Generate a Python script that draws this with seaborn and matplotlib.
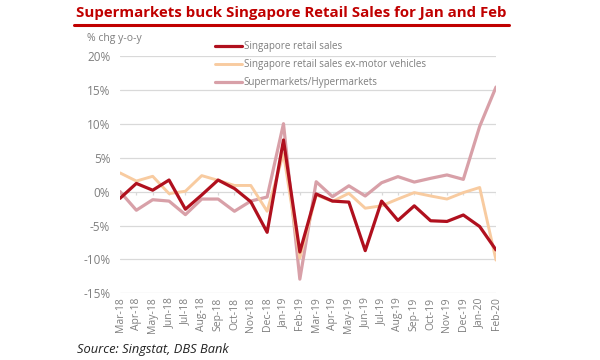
import matplotlib
matplotlib.use("Agg")
import matplotlib.pyplot as plt
from matplotlib.lines import Line2D
import seaborn as sns
import pandas as pd
import numpy as np

months = ["Mar-18", "Apr-18", "May-18", "Jun-18", "Jul-18", "Aug-18", "Sep-18", "Oct-18",
          "Nov-18", "Dec-18", "Jan-19", "Feb-19", "Mar-19", "Apr-19", "May-19", "Jun-19",
          "Jul-19", "Aug-19", "Sep-19", "Oct-19", "Nov-19", "Dec-19", "Jan-20", "Feb-20"]

retail = [-1.0, 1.2, 0.2, 1.7, -2.6, -0.5, 1.7, 0.45, -1.5, -6.0, 7.6, -8.9,
          -0.35, -1.4, -1.55, -8.7, -1.4, -4.25, -2.1, -4.3, -4.4, -3.45, -5.15, -8.6]
retail_ex_motor = [2.75, 1.55, 2.25, -0.3, 0.05, 2.35, 1.65, 0.9, 0.9, -2.9, 5.6, -9.8,
                   -0.5, -1.45, -0.25, -2.45, -2.1, -1.1, -0.15, -0.65, -1.1, -0.15, 0.6, -10.1]
supermarkets = [0.0, -2.75, -1.2, -1.4, -3.4, -1.1, -1.1, -2.9, -1.4, -0.8, 10.0, -12.9,
                1.45, -0.75, 0.85, -0.65, 1.3, 2.2, 1.4, 1.95, 2.45, 1.8, 9.6, 15.4]

series_names = ["Singapore retail sales", "Singapore retail sales ex-motor vehicles",
                "Supermarkets/Hypermarkets"]
colors = {"Singapore retail sales": "#B0101E",
          "Singapore retail sales ex-motor vehicles": "#F8CBA0",
          "Supermarkets/Hypermarkets": "#D8A0A8"}

yticks = [-15, -10, -5, 0, 5, 10, 15, 20]
ytick_labels = ["-15%", "-10%", "-5%", "0%", "5%", "10%", "15%", "20%"]

idx = np.arange(len(months))
df = pd.DataFrame({
    "idx": np.tile(idx, 3),
    "value": retail + retail_ex_motor + supermarkets,
    "series": np.repeat(series_names, len(months)),
})

sns.set_theme(style="white")
plt.rcParams["font.family"] = ["Open Sans", "DejaVu Sans"]

fig = plt.figure(figsize=(6, 3.6), dpi=100)
ax = fig.add_axes([0.2, 0.185, 0.6267, 0.66])

for y in yticks:
    ax.axhline(y, color="#D9D9D9", lw=0.9, zorder=0)
ax.vlines(idx, -0.55, 0, color="#D9D9D9", lw=0.9, zorder=0)

draw_order = ["Supermarkets/Hypermarkets", "Singapore retail sales ex-motor vehicles",
              "Singapore retail sales"]
widths = {"Singapore retail sales": 2.3,
          "Singapore retail sales ex-motor vehicles": 2.1,
          "Supermarkets/Hypermarkets": 2.3}
for i, name in enumerate(draw_order):
    sub = df[df["series"] == name]
    sns.lineplot(data=sub, x="idx", y="value", color=colors[name], lw=widths[name],
                 ax=ax, zorder=2 + i, legend=False)

ax.set_xlim(0, len(months) - 1)
ax.set_ylim(-15, 20)
ax.set_yticks(yticks)
ax.set_yticklabels(ytick_labels)
ax.set_xticks(idx)
ax.set_xticklabels(months, rotation=90)
ax.tick_params(axis="y", length=0, pad=7, labelsize=8.5, labelcolor="#7F7F7F")
ax.tick_params(axis="x", length=0, pad=3, labelsize=7.5, labelcolor="#7F7F7F")
ax.set_xlabel("")
ax.set_ylabel("")
for s in ax.spines.values():
    s.set_visible(False)

handles = [Line2D([], [], color=colors[n], lw=widths[n]) for n in series_names]
leg = fig.legend(handles, series_names, loc="upper left",
                 bbox_to_anchor=(215 / 600, 1 - 41 / 360), frameon=False,
                 fontsize=7.1, handlelength=2.75, handletextpad=0.15,
                 labelspacing=0.72, borderpad=0, borderaxespad=0)
for t in leg.get_texts():
    t.set_color("#7F7F7F")

fig.text(87 / 600, 1 - 39 / 360, "% chg y-o-y", fontsize=7.5, color="#7F7F7F",
         va="center", ha="left")

fig.text(76 / 600, 1 - 13 / 360, "Supermarkets buck Singapore Retail Sales for Jan and Feb",
         fontsize=10.8, fontweight="bold", color="#C00000", va="center", ha="left")
fig.add_artist(Line2D([74 / 600, 509 / 600], [1 - 25 / 360, 1 - 25 / 360],
                      transform=fig.transFigure, color="#C00000", lw=2.2))

fig.text(77 / 600, 1 - 350 / 360, "Source: Singstat, DBS Bank", fontsize=9.3,
         style="italic", color="#222222", va="center", ha="left")

fig.savefig("out.png", dpi=100)
